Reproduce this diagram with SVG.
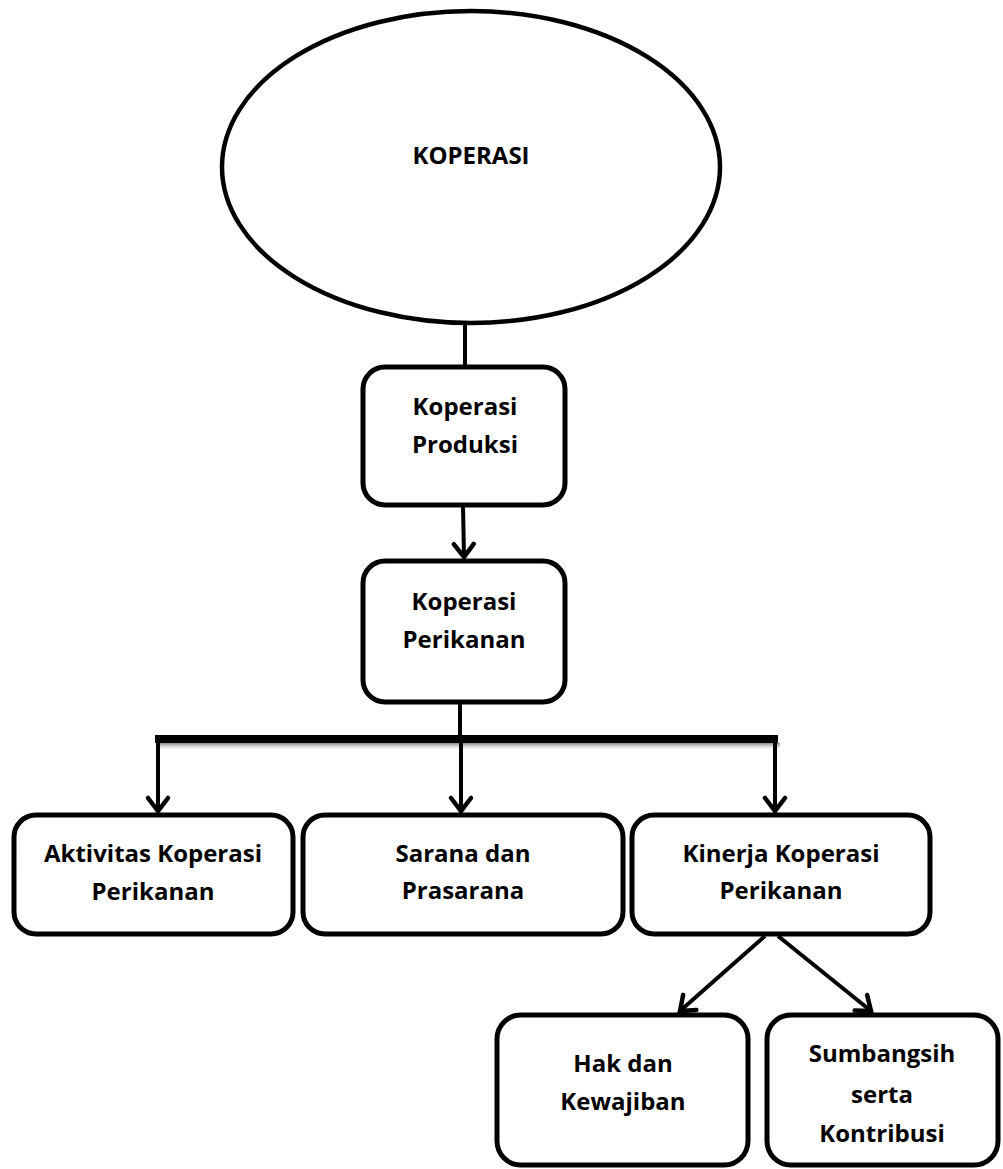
<svg xmlns="http://www.w3.org/2000/svg" width="1003" height="1169" viewBox="0 0 1003 1169">
<style>
.box{fill:#fff;stroke:#000;stroke-width:5}
.ell{fill:#fff;stroke:#000;stroke-width:4.5}
.lbl{font-family:"Open Sans","Liberation Sans",sans-serif;font-weight:bold;font-size:24px;fill:#000;text-anchor:middle}
.con{fill:none;stroke:#000;stroke-width:4}
.arr{fill:none;stroke:#000;stroke-width:4;marker-end:url(#ah)}
</style>
<defs>
<marker id="ah" markerUnits="userSpaceOnUse" orient="auto" refX="0" refY="0" markerWidth="30" markerHeight="30" viewBox="-15 -15 30 30" overflow="visible">
<path d="M -13 -10 L 0 0 L -13 10" fill="none" stroke="#000" stroke-width="4.5" stroke-linecap="round" stroke-linejoin="miter"/>
</marker>
<linearGradient id="sh" x1="0" y1="0" x2="0" y2="1">
<stop offset="0" stop-color="#888"/>
<stop offset="1" stop-color="#fff" stop-opacity="0"/>
</linearGradient>
</defs>
<rect width="1003" height="1169" fill="#fff"/>
<g id="connectors">
<line class="con" x1="465" y1="322" x2="465" y2="368"/>
<line class="arr" x1="463" y1="505" x2="464" y2="557"/>
<line class="con" x1="460" y1="702" x2="460" y2="739"/>
<rect x="157" y="743" width="623" height="8" fill="url(#sh)"/>
<line x1="155" y1="739" x2="778" y2="739" stroke="#000" stroke-width="8"/>
<line class="arr" x1="158" y1="739" x2="158" y2="811"/>
<line class="arr" x1="461" y1="739" x2="461" y2="811"/>
<line class="arr" x1="775" y1="739" x2="775" y2="811"/>
<line class="arr" x1="765" y1="936" x2="680" y2="1011"/>
<line class="arr" x1="778" y1="936" x2="871" y2="1011"/>
</g>
<g id="koperasi">
<ellipse class="ell" cx="471" cy="167" rx="249" ry="156"/>
<text class="lbl" x="471" y="164">KOPERASI</text>
</g>
<g id="koperasi-produksi">
<rect class="box" x="363" y="367" width="202" height="138" rx="22"/>
<text class="lbl" x="465" y="415">Koperasi</text>
<text class="lbl" x="465" y="453">Produksi</text>
</g>
<g id="koperasi-perikanan">
<rect class="box" x="363" y="561" width="202" height="141" rx="22"/>
<text class="lbl" x="464" y="610">Koperasi</text>
<text class="lbl" x="464" y="648">Perikanan</text>
</g>
<g id="aktivitas">
<rect class="box" x="14" y="815" width="279" height="119" rx="22"/>
<text class="lbl" x="153" y="862">Aktivitas Koperasi</text>
<text class="lbl" x="153" y="900">Perikanan</text>
</g>
<g id="sarana">
<rect class="box" x="303" y="815" width="320" height="119" rx="22"/>
<text class="lbl" x="463" y="862">Sarana dan</text>
<text class="lbl" x="463" y="899">Prasarana</text>
</g>
<g id="kinerja">
<rect class="box" x="632" y="815" width="298" height="119" rx="22"/>
<text class="lbl" x="781" y="862">Kinerja Koperasi</text>
<text class="lbl" x="781" y="899">Perikanan</text>
</g>
<g id="hak">
<rect class="box" x="497" y="1015" width="251" height="150" rx="24"/>
<text class="lbl" x="623" y="1072">Hak dan</text>
<text class="lbl" x="623" y="1110">Kewajiban</text>
</g>
<g id="sumbangsih">
<rect class="box" x="767" y="1015" width="231" height="150" rx="24"/>
<text class="lbl" x="882" y="1062">Sumbangsih</text>
<text class="lbl" x="882" y="1103">serta</text>
<text class="lbl" x="882" y="1142">Kontribusi</text>
</g>
</svg>
